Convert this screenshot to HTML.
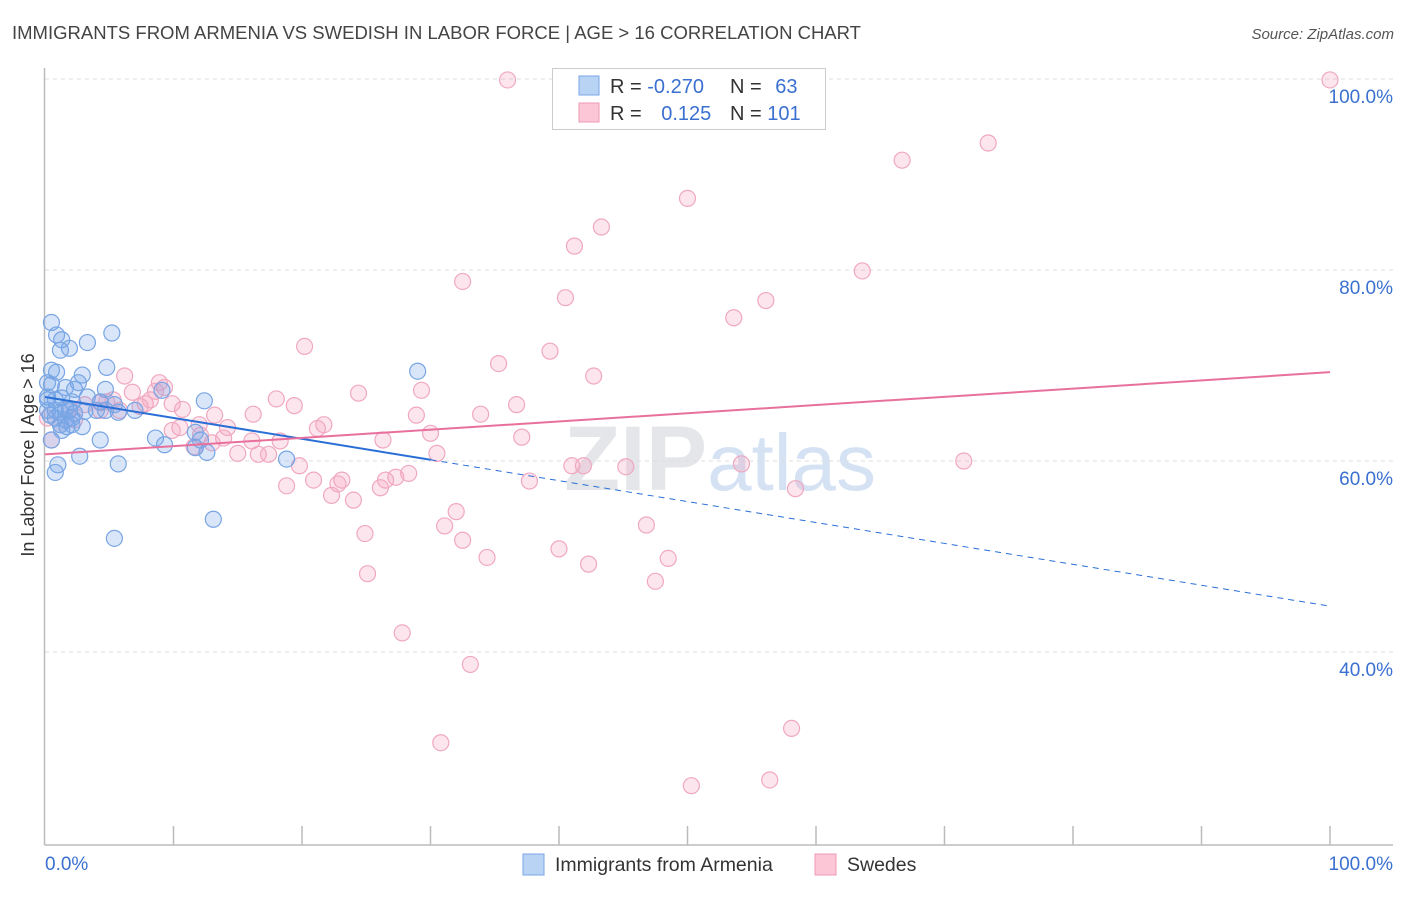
<!DOCTYPE html>
<html><head><meta charset="utf-8">
<style>
body{margin:0;background:#fff;font-family:"Liberation Sans",sans-serif;}
svg text{font-family:"Liberation Sans",sans-serif;}
</style></head>
<body>
<svg id="chart" width="1406" height="892" viewBox="0 0 1406 892" xmlns="http://www.w3.org/2000/svg">
<text x="12" y="39" font-size="18" fill="#444" textLength="849" lengthAdjust="spacingAndGlyphs">IMMIGRANTS FROM ARMENIA VS SWEDISH IN LABOR FORCE | AGE &gt; 16 CORRELATION CHART</text>
<text x="1394" y="39" font-size="15" fill="#555" font-style="italic" text-anchor="end">Source: ZipAtlas.com</text>
<text x="720" y="490" font-size="92" fill="#e4e6ea" text-anchor="middle" font-family="Liberation Serif" font-weight="bold">ZIP<tspan fill="#d4e2f4" font-family="Liberation Sans" font-weight="normal" font-size="80">atlas</tspan></text>
<g id="grid"></g>
<g id="axes"></g>
<g id="pts"></g>
<g id="lines"></g>
<text transform="translate(34,455) rotate(-90)" font-size="18" fill="#333" text-anchor="middle">In Labor Force | Age &gt; 16</text>
<g>
<rect x="552.5" y="68.5" width="273" height="61" fill="#fff" stroke="#ccc"/>
<rect x="579" y="76" width="20" height="19" fill="#b9d3f5" stroke="#7aa6e6"/>
<rect x="579" y="103" width="20" height="19" fill="#fcc6d6" stroke="#ee9ab6"/>
<text x="610" y="93" font-size="20" fill="#333">R = <tspan fill="#3a70d0">-0.270</tspan></text>
<text x="730" y="93" font-size="20" fill="#333">N = <tspan fill="#3a70d0" dx="8">63</tspan></text>
<text x="610" y="120" font-size="20" fill="#333">R = <tspan fill="#3a70d0" dx="14">0.125</tspan></text>
<text x="730" y="120" font-size="20" fill="#333">N = <tspan fill="#3a70d0">101</tspan></text>
</g>
<g>
<rect x="523" y="854" width="21" height="21" fill="#b9d3f5" stroke="#7aa6e6"/>
<text x="555" y="871" font-size="19.5" fill="#333">Immigrants from Armenia</text>
<rect x="815" y="854" width="21" height="21" fill="#fcc6d6" stroke="#ee9ab6"/>
<text x="847" y="871" font-size="19.5" fill="#333">Swedes</text>
</g>
</svg>
<script>
const blueX=[0.5,0.9,1.3,1.9,1.2,3.3,5.2,0.5,0.9,2.9,4.8,0.2,0.5,1.6,2.6,2.3,4.7,0.2,0.8,1.3,2.1,3.3,4.3,5.4,7.0,9.1,12.4,0.2,0.8,1.2,1.6,1.9,2.3,3.1,4.0,4.7,5.7,0.4,0.8,1.6,2.1,1.2,1.7,2.1,2.9,1.3,0.5,4.3,8.6,9.3,11.7,12.1,12.6,11.7,18.8,29.0,2.7,1.0,0.8,5.7,13.1,5.4,0.2];
const blueY=[74.5,73.2,72.7,71.8,71.6,72.4,73.4,69.5,69.3,69.0,69.8,68.2,68.0,67.7,68.2,67.5,67.5,66.7,66.4,66.6,66.2,66.7,66.2,65.9,65.3,67.4,66.3,65.3,65.3,65.1,65.5,65.3,65.0,65.2,65.3,65.3,65.1,64.8,64.5,64.3,64.5,63.8,63.6,63.8,63.6,63.2,62.2,62.2,62.4,61.7,61.4,62.2,60.9,63.0,60.2,69.4,60.5,59.6,58.8,59.7,53.9,51.9,66.4];
const pinkX=[36.0,100,73.4,66.7,50.0,43.3,41.2,63.6,32.5,40.5,56.1,53.6,20.2,39.3,35.3,42.7,6.2,8.9,6.8,9.3,8.6,29.3,24.4,18.0,19.4,7.8,9.9,5.3,4.3,10.7,7.4,28.9,36.7,33.9,13.2,16.2,14.2,21.7,21.2,30.0,10.5,12.0,12.1,16.1,18.3,37.1,26.3,13.9,13.0,11.6,15.0,16.6,17.4,30.5,19.8,41.0,41.9,45.2,54.2,71.5,28.3,27.3,26.5,23.1,20.9,37.7,18.8,22.8,26.1,22.3,24.0,58.4,32.0,31.1,46.8,32.5,24.9,40.0,34.4,48.5,42.3,25.1,47.5,27.8,33.1,30.8,58.1,50.3,56.4,0.2,0.5,1.2,1.9,3.1,4.8,2.3,5.8,8.2,9.9,4.3];
const pinkY=[99.9,99.9,93.3,91.5,87.5,84.5,82.5,79.9,78.8,77.1,76.8,75.0,72.0,71.5,70.2,68.9,68.9,68.2,67.2,67.7,67.3,67.4,67.1,66.5,65.8,66.0,66.0,66.4,66.1,65.4,65.7,64.8,65.9,64.9,64.8,64.9,63.5,63.8,63.4,62.9,63.5,63.8,62.7,62.1,62.1,62.5,62.2,62.4,61.9,61.5,60.8,60.7,60.7,60.8,59.5,59.5,59.5,59.4,59.7,60.0,58.7,58.3,58.0,58.0,58.0,57.9,57.4,57.6,57.2,56.4,55.9,57.1,54.7,53.2,53.3,51.7,52.4,50.8,49.9,49.8,49.2,48.2,47.4,42.0,38.7,30.5,32.0,26.0,26.6,64.5,62.2,63.8,65.5,65.9,66.2,64.3,65.3,66.4,63.2,65.3];
const yTicks=[100,80,60,40];
const yTickLabels=["100.0%","80.0%","60.0%","40.0%"];
const xTicks=[10,20,30,40,50,60,70,80,90,100];
const blueTrend=[66.7,44.8];
const blueSolidEnd=30;
const pinkTrend=[60.7,69.3];

const NS="http://www.w3.org/2000/svg";
const sx=v=>45+v*12.85;
const sy=v=>79+(100-v)*9.55;
function mk(tag,attrs,parent){const e=document.createElementNS(NS,tag);for(const k in attrs)e.setAttribute(k,attrs[k]);document.getElementById(parent).appendChild(e);return e;}

yTicks.forEach((t,i)=>{
  const g=mk('line',{x1:45,x2:1393,y1:sy(t),y2:sy(t),stroke:'#ddd','stroke-dasharray':'4,4'},'grid');
  
  
  const l=mk('text',{x:1393,y:sy(t)+24,'font-size':19,fill:'#3a70d0','text-anchor':'end'},'grid');
  l.textContent=yTickLabels[i];
  
  
});
let a=mk('line',{x1:44.5,x2:44.5,y1:68,y2:845,stroke:'#bbb','stroke-width':1.5},'axes');


a=mk('line',{x1:44.5,x2:1393,y1:845,y2:845,stroke:'#bbb','stroke-width':1.5},'axes');


xTicks.forEach(t=>{
  const e=mk('line',{x1:sx(t),x2:sx(t),y1:826,y2:845,stroke:'#bbb','stroke-width':1.5},'axes');
  
  
});
let t0=mk('text',{x:45,y:870,'font-size':19,fill:'#3a70d0'},'axes');t0.textContent='0.0%';


let t1=mk('text',{x:1393,y:870,'font-size':19,fill:'#3a70d0','text-anchor':'end'},'axes');t1.textContent='100.0%';



pinkX.forEach((x,i)=>{
  const c=mk('circle',{cx:sx(x),cy:sy(pinkY[i]),r:8,fill:'rgba(246,160,190,0.28)',stroke:'#f0a8c0','stroke-width':1.2},'pts');
  
  
});
blueX.forEach((x,i)=>{
  const c=mk('circle',{cx:sx(x),cy:sy(blueY[i]),r:8,fill:'rgba(120,165,235,0.28)',stroke:'#78a5e4','stroke-width':1.2},'pts');
  
  
});
const bAt=x=>blueTrend[0]+(blueTrend[1]-blueTrend[0])*x/100;
let ln=mk('line',{x1:sx(0),y1:sy(bAt(0)),x2:sx(blueSolidEnd),y2:sy(bAt(blueSolidEnd)),stroke:'#2a6fd6','stroke-width':2},'lines');


ln=mk('line',{x1:sx(blueSolidEnd),y1:sy(bAt(blueSolidEnd)),x2:sx(100),y2:sy(bAt(100)),stroke:'#2a6fd6','stroke-width':1,'stroke-dasharray':'6,5'},'lines');


ln=mk('line',{x1:sx(0),y1:sy(pinkTrend[0]),x2:sx(100),y2:sy(pinkTrend[1]),stroke:'#e8709c','stroke-width':2},'lines');


</script>
</body></html>
